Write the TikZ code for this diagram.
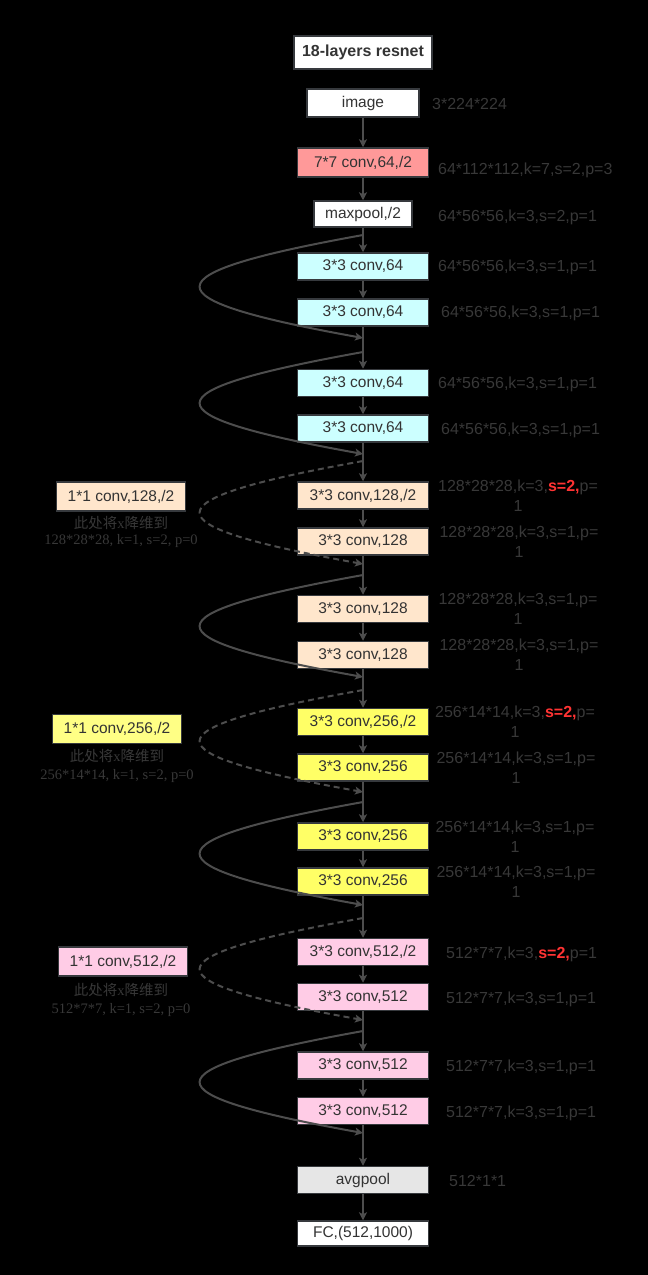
\documentclass[tikz,border=0pt]{standalone}
\usepackage{fontspec}
\setmainfont{Liberation Sans}
\newfontfamily\cjk{Noto Sans CJK SC}
\newfontfamily\serifx{Liberation Serif}
\usetikzlibrary{arrows.meta}
\definecolor{linegray}{HTML}{4D4D4D}
\definecolor{edgegray}{HTML}{36393D}
\definecolor{txtgray}{HTML}{333333}
\definecolor{dimgray}{HTML}{383838}
\definecolor{salmon}{HTML}{FF9999}
\definecolor{aqua}{HTML}{CCFFFF}
\definecolor{peach}{HTML}{FFE6CC}
\definecolor{lemon}{HTML}{FFFF66}
\definecolor{rose}{HTML}{FFCCE6}
\definecolor{ash}{HTML}{E6E6E6}
\definecolor{hot}{HTML}{FF3333}
\newcommand{\stwo}{\textcolor{hot}{\bfseries s=2,}}
\begin{document}
\begin{tikzpicture}[x=1pt,y=-1pt,
  layer/.style={draw=edgegray, line width=1.5pt, text=txtgray, minimum width=131pt,
    minimum height=27pt, inner sep=0pt, font=\fontsize{15.5}{18}\selectfont},
  sidebox/.style={layer, minimum width=129pt, minimum height=29pt},
  dimlabel/.style={text=dimgray, anchor=base west, inner sep=0pt, font=\fontsize{16}{20}\selectfont},
  wraplabel/.style={text=dimgray, align=center, inner sep=0pt, font=\fontsize{16}{20}\selectfont},
  note/.style={text=dimgray, align=center, inner sep=0pt, font=\fontsize{14.5}{18}\serifx},
  flow/.style={draw=linegray, line width=1.5pt, -{Stealth[length=8pt,width=8pt,inset=2pt]}},
  skipline/.style={flow, line width=2pt},
  skipdash/.style={skipline, dash pattern=on 6pt off 4pt},
]
% canvas
\fill[black] (0,0) rectangle (648,1275);

% title and stem
\node[layer, fill=white, minimum width=138pt, minimum height=33pt,
  font=\fontsize{16}{18}\selectfont\bfseries] (title) at (363,52.5) {18-layers resnet};
\node[layer, fill=white, minimum width=112pt, minimum height=28pt] (img) at (363,103) {image};
\node[layer, fill=salmon, minimum height=29pt] (c7) at (363,162.5) {7*7 conv,64,/2};
\node[layer, fill=white, minimum width=98pt, minimum height=26pt] (mp) at (363,214) {maxpool,/2};

% residual stages
\node[layer, fill=aqua] (L1) at (363,266.5) {3*3 conv,64};
\node[layer, fill=aqua] (L2) at (363,312.5) {3*3 conv,64};
\node[layer, fill=aqua] (L3) at (363,383) {3*3 conv,64};
\node[layer, fill=aqua] (L4) at (363,428.5) {3*3 conv,64};
\node[layer, fill=peach] (L5) at (363,495.5) {3*3 conv,128,/2};
\node[layer, fill=peach] (L6) at (363,541.5) {3*3 conv,128};
\node[layer, fill=peach] (L7) at (363,609) {3*3 conv,128};
\node[layer, fill=peach] (L8) at (363,655) {3*3 conv,128};
\node[layer, fill=lemon] (L9) at (363,722) {3*3 conv,256,/2};
\node[layer, fill=lemon] (L10) at (363,767.5) {3*3 conv,256};
\node[layer, fill=lemon] (L11) at (363,836.5) {3*3 conv,256};
\node[layer, fill=lemon] (L12) at (363,881.5) {3*3 conv,256};
\node[layer, fill=rose] (L13) at (363,952) {3*3 conv,512,/2};
\node[layer, fill=rose] (L14) at (363,997) {3*3 conv,512};
\node[layer, fill=rose] (L15) at (363,1065.5) {3*3 conv,512};
\node[layer, fill=rose] (L16) at (363,1111) {3*3 conv,512};
\node[layer, fill=ash] (avg) at (363,1180) {avgpool};
\node[layer, fill=white, minimum height=25pt] (fc) at (363,1233.5) {FC,(512,1000)};

% main data path
\draw[flow] (img.south) -- (c7.north);
\draw[flow] (c7.south) -- (mp.north);
\draw[flow] (mp.south) -- (L1.north);
\foreach \a/\b in {L1/L2,L2/L3,L3/L4,L4/L5,L5/L6,L6/L7,L7/L8,L8/L9,L9/L10,
    L10/L11,L11/L12,L12/L13,L13/L14,L14/L15,L15/L16,L16/avg,avg/fc}
  \draw[flow] (\a.south) -- (\b.north);

% shortcut branch and merge points
\coordinate (s1) at (363,235);  \coordinate (e1) at (363,338);
\coordinate (s2) at (363,352);  \coordinate (e2) at (363,454);
\coordinate (s3) at (363,461);  \coordinate (e3) at (363,564);
\coordinate (s4) at (363,575);  \coordinate (e4) at (363,677);
\coordinate (s5) at (363,690);  \coordinate (e5) at (363,792);
\coordinate (s6) at (363,802);  \coordinate (e6) at (363,905);
\coordinate (s7) at (363,918);  \coordinate (e7) at (363,1020);
\coordinate (s8) at (363,1031); \coordinate (e8) at (363,1133);

% identity shortcuts
\foreach \i in {1,2,4,6,8}
  \draw[skipline] (s\i) .. controls +(-217,39) and +(-217,-39) .. (e\i);
% projection shortcuts
\foreach \i in {3,5,7}
  \draw[skipdash] (s\i) .. controls +(-217,39) and +(-217,-39) .. (e\i);

% 1x1 projection layers
\node[sidebox, fill=peach] (p128) at (121,496.5) {1*1 conv,128,/2};
\node[note] (n128a) at (121,523) {{\cjk 此处将}x{\cjk 降维到}};
\node[note] (n128b) at (121,541) {128*28*28, k=1, s=2, p=0};
\node[sidebox, fill=lemon!80!white] (p256) at (117,729) {1*1 conv,256,/2};
\node[note] (n256a) at (117,756) {{\cjk 此处将}x{\cjk 降维到}};
\node[note] (n256b) at (117,776) {256*14*14, k=1, s=2, p=0};
\node[sidebox, fill=rose] (p512) at (123,961.5) {1*1 conv,512,/2};
\node[note] (n512a) at (121,990) {{\cjk 此处将}x{\cjk 降维到}};
\node[note] (n512b) at (121,1010) {512*7*7, k=1, s=2, p=0};

% output shapes
\node[dimlabel] (t0) at (432,109) {3*224*224};
\node[dimlabel] (t1) at (438,174) {64*112*112,k=7,s=2,p=3};
\node[dimlabel] (t2) at (438,221) {64*56*56,k=3,s=2,p=1};
\node[dimlabel] (t3) at (438,271) {64*56*56,k=3,s=1,p=1};
\node[dimlabel] (t4) at (441,317) {64*56*56,k=3,s=1,p=1};
\node[dimlabel] (t5) at (438,388) {64*56*56,k=3,s=1,p=1};
\node[dimlabel] (t6) at (441,434) {64*56*56,k=3,s=1,p=1};
\node[wraplabel] (t7) at (518,495.5) {128*28*28,k=3,\stwo p=\\1};
\node[wraplabel] (t8) at (519,541.5) {128*28*28,k=3,s=1,p=\\1};
\node[wraplabel] (t9) at (518,609) {128*28*28,k=3,s=1,p=\\1};
\node[wraplabel] (t10) at (519,655) {128*28*28,k=3,s=1,p=\\1};
\node[wraplabel] (t11) at (515,722) {256*14*14,k=3,\stwo p=\\1};
\node[wraplabel] (t12) at (516,767.5) {256*14*14,k=3,s=1,p=\\1};
\node[wraplabel] (t13) at (515,836.5) {256*14*14,k=3,s=1,p=\\1};
\node[wraplabel] (t14) at (516,881.5) {256*14*14,k=3,s=1,p=\\1};
\node[dimlabel] (t15) at (446,958) {512*7*7,k=3,\stwo p=1};
\node[dimlabel] (t16) at (446,1003) {512*7*7,k=3,s=1,p=1};
\node[dimlabel] (t17) at (446,1071.5) {512*7*7,k=3,s=1,p=1};
\node[dimlabel] (t18) at (446,1117) {512*7*7,k=3,s=1,p=1};
\node[dimlabel] (t19) at (449,1186) {512*1*1};
\end{tikzpicture}
\end{document}
